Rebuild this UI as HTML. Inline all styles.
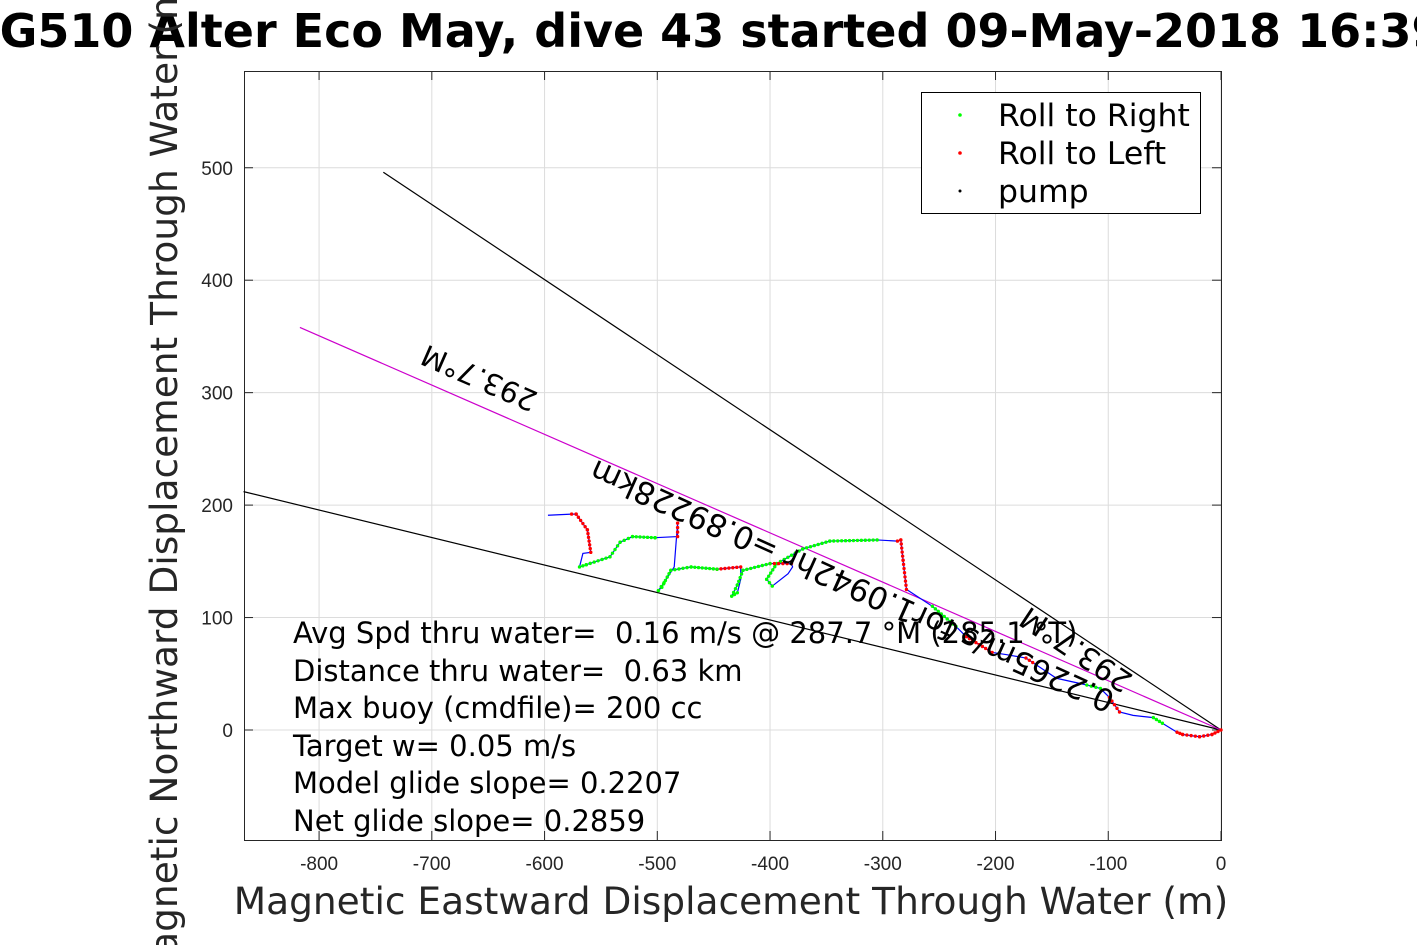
<!DOCTYPE html>
<html><head><meta charset="utf-8"><style>
body{margin:0;background:#fff;width:1417px;height:945px;overflow:hidden}
svg{font-family:"Liberation Sans","DejaVu Sans",sans-serif}
</style></head><body>
<svg id="chart" width="1417" height="945" xmlns="http://www.w3.org/2000/svg">
<text x="705" y="47" font-size="46" font-weight="bold" text-anchor="middle" font-family="DejaVu Sans, sans-serif">SG510 Alter Eco May, dive 43 started 09-May-2018 16:39</text>
<g id="grid"></g>
<g id="axes"></g>
<g id="marks"></g>
<text x="731" y="914" font-size="37.5" text-anchor="middle" fill="#262626" font-family="DejaVu Sans, sans-serif">Magnetic Eastward Displacement Through Water (m)</text>
<text transform="translate(177,478) rotate(-90)" font-size="37.5" text-anchor="middle" fill="#262626" font-family="DejaVu Sans, sans-serif">Magnetic Northward Displacement Through Water (m)</text>
<g font-size="29" font-family="DejaVu Sans, sans-serif" style="white-space:pre">
<text x="293" y="643" xml:space="preserve">Avg Spd thru water=  0.16 m/s @ 287.7 °M (285.1 °T)</text>
<text x="293" y="681" xml:space="preserve">Distance thru water=  0.63 km</text>
<text x="293" y="718">Max buoy (cmdfile)= 200 cc</text>
<text x="293" y="756">Target w= 0.05 m/s</text>
<text x="293" y="793">Model glide slope= 0.2207</text>
<text x="293" y="831">Net glide slope= 0.2859</text>
</g>
<g>
<rect x="921.5" y="92.5" width="279" height="121" fill="#fff" stroke="#000" stroke-width="1"/>
<circle cx="960" cy="115" r="1.8" fill="#0f0"/><text x="998" y="126" font-size="31.5" font-family="DejaVu Sans, sans-serif">Roll to Right</text>
<circle cx="960" cy="153" r="1.8" fill="#f00"/><text x="998" y="164" font-size="31.5" font-family="DejaVu Sans, sans-serif">Roll to Left</text>
<circle cx="960" cy="191" r="1.5" fill="#000"/><text x="998" y="202" font-size="31.5" font-family="DejaVu Sans, sans-serif">pump</text>
</g>
</svg>
<script>
const xTicks=[-800,-700,-600,-500,-400,-300,-200,-100,0];
const yTicks=[0,100,200,300,400,500];
const trackX=[0,-8,-19,-34,-39,-52,-60,-78,-90,-99,-107,-119,-146,-167,-173,-190,-203,-226,-235,-256,-279,-282,-284,-287,-305,-347,-371,-394,-403,-398,-384,-380,-381,-400,-424,-429,-434,-429,-426,-426,-447,-470,-488,-496,-499,-494,-485,-482,-482,-502,-502,-522,-533,-542,-563,-569,-566,-559,-562,-572,-576,-597];
const trackY=[0,-4,-6,-4,-2,6,11,13,16,29,37,40,46,60,64,67,69,83,92,110,125,151,169,168,169,168,161,148,134,128,139,145,148,148,142,129,119,122,134,145,143,145,142,127,124,131,145,184,172,171,171,172,167,154,147,145,157,158,178,192,192,191];
const trackType=['r','r','r','r','b','g','b','b','r','b','g','b','b','r','b','b','r','b','g','b','r','r','r','b','g','g','g','g','g','b','b','b','r','g','g','g','g','b','b','r','g','g','g','g','g','b','b','r','b','g','g','g','g','g','g','b','b','r','r','r','b','b'];
const line1=[[-743,496],[0,0]];
const line2=[[-867,212],[0,0]];
const magLine=[[-817,358],[0,0]];
const X=v=>1221+v*1.1274, Y=v=>730-v*1.1245;
const NS='http://www.w3.org/2000/svg';
function mk(tag,attrs,parent){const e=document.createElementNS(NS,tag);for(const k in attrs)e.setAttribute(k,attrs[k]);parent.appendChild(e);return e;}
const grid=document.getElementById('grid'),axes=document.getElementById('axes'),marks=document.getElementById('marks');
const L=244,R=1221,T=71,B=840;
mk('rect',{x:L,y:T,width:R-L,height:B-T,fill:'#fff'},grid);
xTicks.forEach(t=>{const x=X(t);
 const g=mk('line',{x1:x,x2:x,y1:T,y2:B,stroke:'#dcdcdc','stroke-width':1},grid);
 
 mk('line',{x1:x,x2:x,y1:B,y2:B-9,stroke:'#262626'},axes);mk('line',{x1:x,x2:x,y1:T,y2:T+9,stroke:'#262626'},axes);
 const tx=mk('text',{x:x,y:870,'font-size':19,'text-anchor':'middle',fill:'#262626'},axes);tx.textContent=t;
 });
yTicks.forEach(t=>{const y=Y(t);
 const g=mk('line',{x1:L,x2:R,y1:y,y2:y,stroke:'#dcdcdc','stroke-width':1},grid);
 
 mk('line',{x1:L,x2:L+9,y1:y,y2:y,stroke:'#262626'},axes);mk('line',{x1:R,x2:R-9,y1:y,y2:y,stroke:'#262626'},axes);
 const tx=mk('text',{x:233,y:y+7,'font-size':19,'text-anchor':'end',fill:'#262626'},axes);tx.textContent=t;
 });
mk('rect',{x:L+0.5,y:T+0.5,width:R-L,height:B-T,fill:'none',stroke:'#262626','stroke-width':1},axes);
function ln(p,col,name){const e=mk('line',{x1:X(p[0][0]),y1:Y(p[0][1]),x2:X(p[1][0]),y2:Y(p[1][1]),stroke:col,'stroke-width':1.2},marks);
 }
ln(line1,'#000','heading-bound-1');ln(line2,'#000','heading-bound-2');ln(magLine,'#c0c','mean-heading-line');
const pts=trackX.map((x,i)=>X(x)+','+Y(trackY[i])).join(' ');
const pl=mk('polyline',{points:pts,fill:'none',stroke:'#00f','stroke-width':1.2},marks);

for(let i=0;i<trackX.length-1;i++){const ty=trackType[i];if(ty==='b')continue;
 const x0=X(trackX[i]),y0=Y(trackY[i]),x1=X(trackX[i+1]),y1=Y(trackY[i+1]);
 const d=Math.hypot(x1-x0,y1-y0),n=Math.max(1,Math.round(d/4));
 for(let k=0;k<=n;k++){const c=mk('circle',{cx:x0+(x1-x0)*k/n,cy:y0+(y1-y0)*k/n,r:1.7,fill:ty==='g'?'#0f0':'#f00'},marks);
  
  }}
function rt(x,y,ang,txt,name,fs){const e=mk('text',{transform:`translate(${x},${y}) rotate(${ang})`,'font-size':fs,'text-anchor':'middle','dominant-baseline':'middle','font-family':'DejaVu Sans, sans-serif'},marks);
 e.textContent=txt;}
rt(480,376,203.6,'293.7°M','heading-label',29);
rt(853,584,204.2,'0.2265m/s for1.0942hr =0.89228km','speed-label',31);
rt(1077,648,213.7,'293.7°M','heading-label-2',30);
</script>
</body></html>
